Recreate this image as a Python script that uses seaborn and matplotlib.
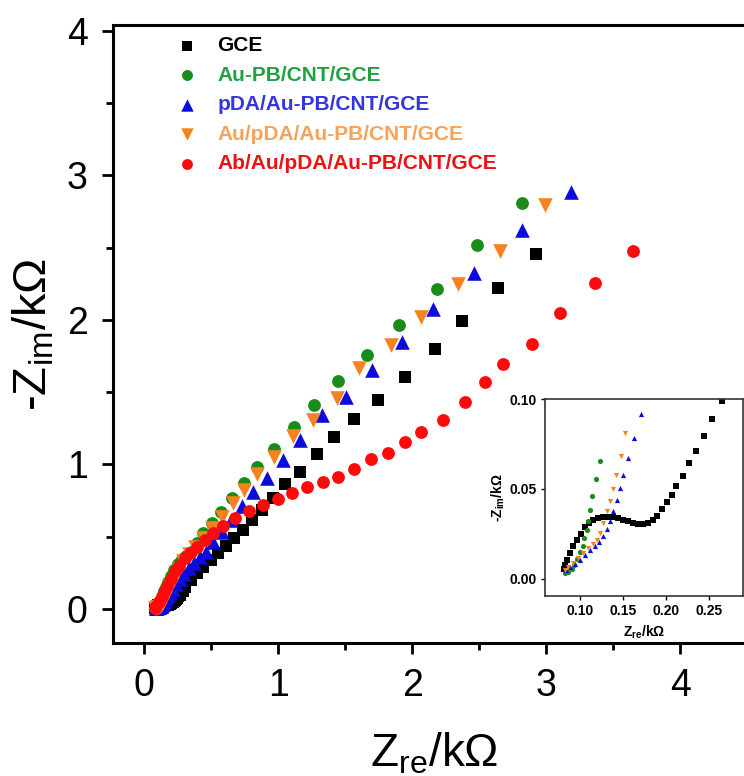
import numpy as np
import pandas as pd
import seaborn as sns
import matplotlib.pyplot as plt

# Nyquist data (Zre, -Zim in kOhm)
gce_x = [0.0806, 0.0822, 0.0845, 0.0876, 0.0915, 0.0961, 0.1008, 0.1058, 0.1108, 0.1155,
         0.1213, 0.1271, 0.1329, 0.1387, 0.1445, 0.1504, 0.1562, 0.1620, 0.1678, 0.1736,
         0.1795, 0.1845, 0.1900, 0.1950, 0.2008, 0.2066, 0.2124, 0.2202, 0.2267, 0.2349,
         0.2442, 0.2538, 0.2655, 0.285, 0.304, 0.346, 0.391, 0.440, 0.498, 0.553, 0.610,
         0.672, 0.739, 0.801, 0.881, 0.958, 1.050, 1.162, 1.291, 1.418, 1.565, 1.746,
         1.948, 2.169, 2.373, 2.637, 2.923]
gce_y = [0.0054, 0.0078, 0.0106, 0.0143, 0.0180, 0.0215, 0.0250, 0.0285, 0.0310, 0.0327,
         0.0338, 0.0343, 0.0345, 0.0343, 0.0336, 0.0328, 0.0320, 0.0312, 0.0306, 0.0305,
         0.0310, 0.0325, 0.0350, 0.0385, 0.0424, 0.0467, 0.0513, 0.0569, 0.0643, 0.0711,
         0.0794, 0.0887, 0.0989, 0.125, 0.154, 0.200, 0.247, 0.293, 0.339, 0.385, 0.436,
         0.489, 0.547, 0.616, 0.685, 0.766, 0.865, 0.950, 1.071, 1.193, 1.313, 1.446,
         1.608, 1.799, 1.993, 2.221, 2.457]

aupb_x = [0.0826, 0.0864, 0.0903, 0.0934, 0.0969, 0.1000, 0.1031, 0.1050, 0.1078, 0.1097,
          0.1116, 0.1136, 0.1180, 0.1233, 0.130, 0.140, 0.150, 0.165, 0.180, 0.200, 0.225,
          0.250, 0.280, 0.310, 0.346, 0.391, 0.440, 0.503, 0.570, 0.652, 0.744, 0.839,
          0.968, 1.118, 1.269, 1.448, 1.660, 1.903, 2.187, 2.485, 2.820]
aupb_y = [0.0032, 0.0035, 0.0054, 0.0078, 0.0110, 0.0146, 0.0183, 0.0226, 0.0272, 0.0322,
          0.0383, 0.0461, 0.0556, 0.0652, 0.080, 0.100, 0.125, 0.155, 0.190, 0.230, 0.270,
          0.310, 0.345, 0.370, 0.397, 0.459, 0.524, 0.593, 0.673, 0.766, 0.874, 0.985,
          1.105, 1.262, 1.412, 1.578, 1.758, 1.965, 2.212, 2.517, 2.810]

pda_x = [0.0837, 0.0884, 0.0942, 0.1000, 0.1058, 0.1116, 0.1174, 0.1224, 0.1271, 0.1310,
         0.1349, 0.1387, 0.1427, 0.1465, 0.1504, 0.1562, 0.1628, 0.1705, 0.180, 0.195,
         0.215, 0.240, 0.265, 0.295, 0.330, 0.370, 0.415, 0.460, 0.515, 0.578, 0.645,
         0.727, 0.813, 0.913, 1.033, 1.162, 1.324, 1.503, 1.697, 1.921, 2.157, 2.458,
         2.819, 3.182]
pda_y = [0.0050, 0.0065, 0.0083, 0.0106, 0.0133, 0.0157, 0.0180, 0.0202, 0.0235, 0.0276,
         0.0322, 0.0378, 0.0439, 0.0507, 0.0578, 0.0674, 0.0785, 0.0917, 0.100, 0.115,
         0.140, 0.170, 0.205, 0.245, 0.285, 0.320, 0.360, 0.397, 0.466, 0.535, 0.616,
         0.713, 0.812, 0.904, 1.031, 1.170, 1.343, 1.469, 1.654, 1.850, 2.076, 2.323,
         2.623, 2.884]

aupda_x = [0.0826, 0.0864, 0.0922, 0.0980, 0.1039, 0.1097, 0.1148, 0.1194, 0.1233, 0.1271,
           0.1310, 0.1349, 0.1380, 0.1419, 0.1473, 0.1523, 0.160, 0.175, 0.190, 0.210,
           0.235, 0.260, 0.290, 0.330, 0.380, 0.440, 0.507, 0.578, 0.660, 0.744, 0.839,
           0.969, 1.107, 1.257, 1.440, 1.600, 1.839, 2.063, 2.339, 2.654, 2.990]
aupda_y = [0.0046, 0.0065, 0.0087, 0.0115, 0.0143, 0.0171, 0.0193, 0.0217, 0.0254, 0.0309,
           0.0374, 0.0433, 0.0498, 0.0578, 0.0683, 0.0810, 0.100, 0.125, 0.155, 0.190,
           0.230, 0.280, 0.330, 0.380, 0.430, 0.489, 0.558, 0.639, 0.731, 0.824, 0.932,
           1.055, 1.199, 1.308, 1.462, 1.668, 1.825, 2.023, 2.249, 2.478, 2.796]

ab_x = [0.080, 0.090, 0.110, 0.130, 0.150, 0.170, 0.200, 0.230, 0.260, 0.300, 0.340, 0.390,
        0.450, 0.515, 0.590, 0.677, 0.781, 0.884, 0.995, 1.105, 1.217, 1.331, 1.448, 1.565,
        1.692, 1.816, 1.946, 2.065, 2.231, 2.393, 2.543, 2.674, 2.891, 3.102, 3.363, 3.649]
ab_y = [0.005, 0.020, 0.050, 0.080, 0.120, 0.160, 0.210, 0.260, 0.300, 0.350, 0.390, 0.430,
        0.480, 0.524, 0.574, 0.628, 0.678, 0.718, 0.761, 0.800, 0.846, 0.881, 0.916, 0.967,
        1.036, 1.077, 1.158, 1.227, 1.308, 1.435, 1.573, 1.696, 1.834, 2.048, 2.258, 2.480]

labels = ['GCE', 'Au-PB/CNT/GCE', 'pDA/Au-PB/CNT/GCE', 'Au/pDA/Au-PB/CNT/GCE',
          'Ab/Au/pDA/Au-PB/CNT/GCE']
marker_colors = ['#000000', '#1a8c1a', '#0b0bdc', '#f5821f', '#ff0a0a']
text_colors = ['#000000', '#22a044', '#3535e0', '#f5a35c', '#ee1111']
markers = ['s', 'o', '^', 'v', 'o']
# how many of the first (high frequency) points the inset shows, per series
inset_counts = [33, 14, 18, 16]

series = [(gce_x, gce_y), (aupb_x, aupb_y), (pda_x, pda_y), (aupda_x, aupda_y), (ab_x, ab_y)]

sns.set_style('ticks')
plt.rcParams['font.family'] = ['Liberation Sans', 'DejaVu Sans']
plt.rcParams['mathtext.fontset'] = 'custom'
plt.rcParams['mathtext.rm'] = 'Liberation Sans'
for key in ['text.color', 'axes.labelcolor', 'xtick.color', 'ytick.color', 'axes.edgecolor']:
    plt.rcParams[key] = 'black'

fig = plt.figure(figsize=(7.44, 7.76), dpi=100)
W, H = 744, 776

# main axes runs past the right edge of the picture, like the original crop
ax = fig.add_axes([112.7 / W, 1 - 643 / H, (800 - 112.7) / W, (643 - 25) / H])

for (xs, ys), lab, c, m in zip(series, labels, marker_colors, markers):
    df = pd.DataFrame({'x': xs, 'y': ys})
    sz = 110 if m in ('^', 'v') else 85
    sns.scatterplot(data=df, x='x', y='y', ax=ax, marker=m, color=c, s=sz,
                    linewidth=0, label=lab, zorder=3)

ax.set_xlim(-0.236, 4.893)
ax.set_ylim(-0.235, 4.04)
ax.set_xticks([0, 1, 2, 3, 4])
ax.set_yticks([0, 1, 2, 3, 4])
ax.set_xticks(np.arange(0.5, 4.6, 1.0), minor=True)
ax.set_yticks(np.arange(0.5, 4.0, 1.0), minor=True)
ax.tick_params(axis='both', which='major', direction='out', length=8, width=2,
               labelsize=27, pad=10)
ax.tick_params(axis='both', which='minor', direction='out', length=5, width=2)
for side in ['left', 'bottom', 'top']:
    ax.spines[side].set_linewidth(2.2)
ax.spines['right'].set_visible(False)

ax.set_xlabel('Z$_{\\mathregular{re}}$/kΩ', fontsize=33)
ax.xaxis.set_label_coords((434 - 112.7) / (800 - 112.7), -0.143)
ax.set_ylabel('-Z$_{\\mathregular{im}}$/kΩ', fontsize=34)
ax.yaxis.set_label_coords(-0.082, 0.5)

ax.legend(loc='upper left', bbox_to_anchor=(158 / W, 1 - 28 / H),
          bbox_transform=fig.transFigure, frameon=False, labelcolor=text_colors,
          prop={'weight': 'bold', 'size': 15}, handletextpad=0.45, labelspacing=0.5,
          markerscale=0.85, borderaxespad=0)

# inset: zoom on the high frequency part
axin = fig.add_axes([545 / W, 1 - 596 / H, (743 - 545) / W, (596 - 399) / H])
for (xs, ys), c, m, n in zip(series[:4], marker_colors[:4], markers[:4], inset_counts):
    df = pd.DataFrame({'x': xs[:n], 'y': ys[:n]})
    sns.scatterplot(data=df, x='x', y='y', ax=axin, marker=m, color=c, s=14,
                    linewidth=0, legend=False)
axin.set_xlim(0.059, 0.29)
axin.set_ylim(-0.0097, 0.10)
axin.set_xticks([0.10, 0.15, 0.20, 0.25])
axin.set_yticks([0.00, 0.05, 0.10])
axin.set_xticklabels(['0.10', '0.15', '0.20', '0.25'])
axin.set_yticklabels(['0.00', '0.05', '0.10'])
axin.tick_params(direction='out', length=3, width=1, labelsize=10, pad=3)
plt.setp(axin.get_xticklabels(), fontweight='bold')
plt.setp(axin.get_yticklabels(), fontweight='bold')
for sp in axin.spines.values():
    sp.set_linewidth(1.2)
    sp.set_color('#333333')
axin.set_xlabel('Z$_{\\mathregular{re}}$/kΩ', fontsize=10, fontweight='bold', labelpad=4)
axin.set_ylabel('-Z$_{\\mathregular{im}}$/kΩ', fontsize=10, fontweight='bold', labelpad=2)

fig.savefig('out.png', dpi=100)
